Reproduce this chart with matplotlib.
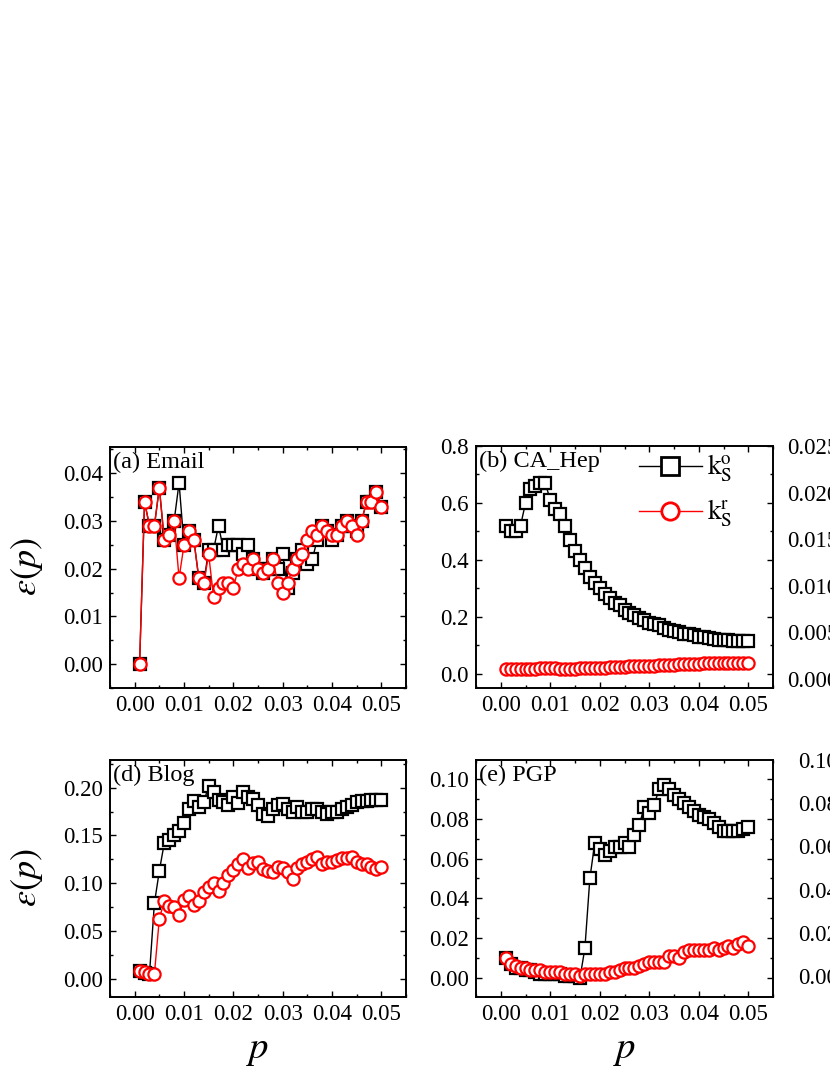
import numpy as np
import matplotlib
matplotlib.use("Agg")
import matplotlib.pyplot as plt
from matplotlib.lines import Line2D
from matplotlib.ticker import MultipleLocator, FormatStrFormatter

plt.rcParams['font.family'] = ['Liberation Serif', 'DejaVu Serif']
plt.rcParams['mathtext.fontset'] = 'stix'

# ---------------- data ----------------
p = [0.001, 0.002, 0.003, 0.004, 0.005, 0.006, 0.007, 0.008, 0.009, 0.010,
     0.011, 0.012, 0.013, 0.014, 0.015, 0.016, 0.017, 0.018, 0.019, 0.020,
     0.021, 0.022, 0.023, 0.024, 0.025, 0.026, 0.027, 0.028, 0.029, 0.030,
     0.031, 0.032, 0.033, 0.034, 0.035, 0.036, 0.037, 0.038, 0.039, 0.040,
     0.041, 0.042, 0.043, 0.044, 0.045, 0.046, 0.047, 0.048, 0.049, 0.050]

email_ko = [0.000, 0.034, 0.029, 0.029, 0.037, 0.026, 0.027, 0.030, 0.038, 0.025,
            0.028, 0.026, 0.018, 0.017, 0.024, 0.024, 0.029, 0.024, 0.025, 0.025,
            0.025, 0.023, 0.025, 0.022, 0.020, 0.019, 0.020, 0.022, 0.020, 0.023,
            0.016, 0.019, 0.022, 0.024, 0.021, 0.022, 0.026, 0.029, 0.028, 0.026,
            0.027, 0.029, 0.030, 0.029, 0.028, 0.030, 0.034, 0.034, 0.036, 0.033]
email_kr = [0.000, 0.034, 0.029, 0.029, 0.037, 0.026, 0.027, 0.030, 0.018, 0.025,
            0.028, 0.026, 0.018, 0.017, 0.023, 0.014, 0.016, 0.017, 0.017, 0.016,
            0.020, 0.021, 0.020, 0.022, 0.020, 0.019, 0.020, 0.022, 0.017, 0.015,
            0.017, 0.020, 0.022, 0.023, 0.026, 0.028, 0.027, 0.029, 0.028, 0.027,
            0.027, 0.029, 0.030, 0.029, 0.027, 0.030, 0.034, 0.034, 0.036, 0.033]

cahep_ko = [0.52, 0.50, 0.50, 0.52, 0.60, 0.65, 0.66, 0.67, 0.67, 0.61,
            0.58, 0.56, 0.52, 0.47, 0.43, 0.40, 0.37, 0.34, 0.32, 0.30,
            0.28, 0.265, 0.25, 0.24, 0.225, 0.215, 0.205, 0.195, 0.19, 0.18,
            0.175, 0.17, 0.16, 0.155, 0.15, 0.145, 0.14, 0.138, 0.135, 0.13,
            0.128, 0.125, 0.123, 0.12, 0.12, 0.118, 0.115, 0.115, 0.115, 0.115]
cahep_kr = [0.015, 0.015, 0.016, 0.016, 0.017, 0.017, 0.018, 0.019, 0.022, 0.020,
            0.019, 0.018, 0.018, 0.018, 0.018, 0.019, 0.019, 0.020, 0.021, 0.022,
            0.022, 0.023, 0.024, 0.025, 0.025, 0.026, 0.027, 0.027, 0.028, 0.028,
            0.029, 0.030, 0.030, 0.031, 0.032, 0.033, 0.034, 0.034, 0.035, 0.036,
            0.037, 0.037, 0.038, 0.038, 0.038, 0.038, 0.038, 0.038, 0.038, 0.038]

blog_ko = [0.008, 0.006, 0.005, 0.079, 0.113, 0.142, 0.145, 0.150, 0.155, 0.163,
           0.178, 0.186, 0.180, 0.185, 0.202, 0.196, 0.187, 0.185, 0.182, 0.190,
           0.184, 0.196, 0.190, 0.188, 0.182, 0.172, 0.170, 0.178, 0.182, 0.183,
           0.178, 0.175, 0.180, 0.175, 0.175, 0.178, 0.178, 0.175, 0.172, 0.175,
           0.175, 0.178, 0.180, 0.182, 0.185, 0.186, 0.186, 0.187, 0.187, 0.187]
blog_kr = [0.008, 0.007, 0.005, 0.005, 0.063, 0.081, 0.076, 0.075, 0.067, 0.082,
           0.087, 0.077, 0.081, 0.091, 0.096, 0.100, 0.092, 0.100, 0.109, 0.114,
           0.120, 0.125, 0.116, 0.121, 0.122, 0.115, 0.113, 0.112, 0.117, 0.116,
           0.112, 0.105, 0.116, 0.120, 0.122, 0.125, 0.127, 0.120, 0.122, 0.122,
           0.124, 0.126, 0.126, 0.127, 0.122, 0.120, 0.120, 0.117, 0.115, 0.117]

pgp_ko = [0.010, 0.007, 0.005, 0.005, 0.004, 0.004, 0.003, 0.002, 0.002, 0.002,
          0.002, 0.002, 0.001, 0.001, 0.001, 0.000, 0.015, 0.050, 0.068, 0.065,
          0.062, 0.064, 0.066, 0.066, 0.068, 0.066, 0.072, 0.077, 0.086, 0.083,
          0.087, 0.095, 0.097, 0.095, 0.092, 0.090, 0.088, 0.086, 0.084, 0.082,
          0.081, 0.080, 0.078, 0.076, 0.074, 0.074, 0.074, 0.074, 0.075, 0.076]
pgp_kr = [0.010, 0.007, 0.006, 0.005, 0.005, 0.004, 0.004, 0.004, 0.003, 0.003,
          0.003, 0.003, 0.002, 0.002, 0.002, 0.001, 0.002, 0.002, 0.002, 0.002,
          0.002, 0.003, 0.003, 0.004, 0.005, 0.005, 0.005, 0.006, 0.007, 0.008,
          0.008, 0.008, 0.008, 0.011, 0.011, 0.010, 0.013, 0.014, 0.014, 0.014,
          0.014, 0.014, 0.015, 0.014, 0.015, 0.016, 0.015, 0.017, 0.018, 0.016]

panel_titles = ['(a) Email', '(b) CA_Hep', '(d) Blog', '(e) PGP']
legend_labels = [r'$\mathrm{k}_\mathrm{S}^\mathrm{o}$', r'$\mathrm{k}_\mathrm{S}^\mathrm{r}$']

# ---------------- layout ----------------
W, H = 830, 1075
fig = plt.figure(figsize=(W / 100, H / 100), dpi=100)

def add_ax(l, r, t, b):
    return fig.add_axes([l / W, 1 - b / H, (r - l) / W, (b - t) / H])

TICK_FS = 16.5

def style(ax, ylim, ymaj, ymin, fmt):
    ax.set_xlim(-0.005, 0.055)
    ax.set_ylim(*ylim)
    ax.xaxis.set_major_locator(MultipleLocator(0.01))
    ax.xaxis.set_minor_locator(MultipleLocator(0.005))
    ax.xaxis.set_major_formatter(FormatStrFormatter('%.2f'))
    ax.yaxis.set_major_locator(MultipleLocator(ymaj))
    ax.yaxis.set_minor_locator(MultipleLocator(ymin))
    ax.yaxis.set_major_formatter(FormatStrFormatter(fmt))
    ax.tick_params(which='both', direction='in', top=True, right=True,
                   width=1.0, labelsize=TICK_FS)
    ax.tick_params(which='major', length=4.5, pad=5)
    ax.tick_params(which='minor', length=2.5)
    for s in ax.spines.values():
        s.set_linewidth(1.4)

MS = 8.8
MEW = 1.6

def draw(ax, ko, kr):
    ax.plot(p, ko, '-', color='black', lw=1.0, marker='s', ms=MS, mew=MEW,
            mfc='white', mec='black', zorder=3)
    ax.plot(p, kr, '-', color='red', lw=1.0, marker='o', ms=MS, mew=MEW,
            mfc='white', mec='red', zorder=4)

ax_a = add_ax(110, 406, 447, 688)
ax_b = add_ax(476, 773, 446, 688)
ax_c = add_ax(845, 1141, 446, 688)
ax_d = add_ax(110, 406, 760, 997)
ax_e = add_ax(476, 773, 760, 997)
ax_f = add_ax(845, 1141, 760, 997)

draw(ax_a, email_ko, email_kr)
draw(ax_b, cahep_ko, cahep_kr)
draw(ax_d, blog_ko, blog_kr)
draw(ax_e, pgp_ko, pgp_kr)

style(ax_a, (-0.005, 0.0455), 0.01, 0.005, '%.2f')
style(ax_b, (-0.05, 0.8), 0.2, 0.1, '%.1f')
style(ax_c, (-0.001, 0.025), 0.005, 0.0025, '%.3f')
style(ax_d, (-0.019, 0.229), 0.05, 0.025, '%.2f')
style(ax_e, (-0.0095, 0.1095), 0.02, 0.01, '%.2f')
style(ax_f, (-0.0096, 0.100), 0.02, 0.01, '%.2f')

for ax, t in zip([ax_a, ax_b, ax_d, ax_e], panel_titles):
    ax.text(0.01, 0.935, t, transform=ax.transAxes, fontsize=TICK_FS + 1,
            ha='left', va='center', zorder=6)

# legend in (b)
handles = [Line2D([], [], color='black', lw=1.0, marker='s', ms=12.5, mew=2,
                  mfc='white', mec='black'),
           Line2D([], [], color='red', lw=1.0, marker='o', ms=12.5, mew=2,
                  mfc='white', mec='red')]
ax_b.legend(handles, legend_labels, loc='upper left', bbox_to_anchor=(0.55, 0.97),
            frameon=False, fontsize=TICK_FS + 3, handlelength=2.3,
            handletextpad=0.2, borderpad=0, borderaxespad=0, labelspacing=0.5)

# axis labels
for yc in [567, 878]:
    fig.text(27 / W, 1 - yc / H, r'$\varepsilon(p)$', fontsize=26, rotation=90,
             ha='center', va='center')
for xc in [258, 625]:
    fig.text(xc / W, 1 - 1050 / H, r'$p$', fontsize=28, ha='center', va='center')

fig.savefig('out.png', dpi=100)
